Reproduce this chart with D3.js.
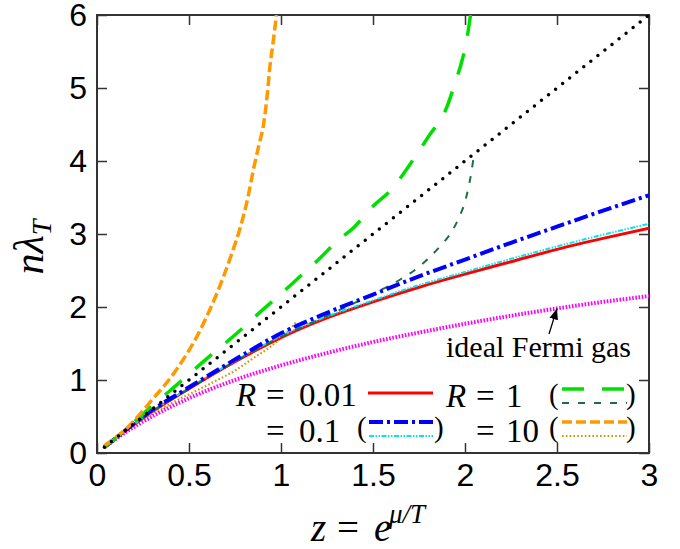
<!DOCTYPE html>
<html>
<head>
<meta charset="utf-8">
<script src="https://cdn.jsdelivr.net/npm/d3@7"></script>
<style>
  body { margin: 0; background: #fff; }
  .tick text { font-family: "Liberation Sans", Arial, sans-serif; font-size: 32px; fill: #000; }
  .tick line { stroke: #333; stroke-width: 1.5; }
  .domain { stroke: none; }
  .serif { font-family: "Liberation Serif", "Times New Roman", serif; fill: #000; }
</style>
</head>
<body>
<script>
// tick values and labels
var xTicks = [0, 0.5, 1, 1.5, 2, 2.5, 3];
var xTickLabels = ["0", "0.5", "1", "1.5", "2", "2.5", "3"];
var yTicks = [0, 1, 2, 3, 4, 5, 6];
var yTickLabels = ["0", "1", "2", "3", "4", "5", "6"];

// curves, [z, n*lambda_T]
var classical = [[0.04, 0.08], [3, 6]];
var idealFermi = [[0.04, 0.08], [0.1, 0.19], [0.25, 0.43], [0.5, 0.75], [0.75, 1.0], [1.0, 1.2],
  [1.25, 1.37], [1.5, 1.52], [1.75, 1.65], [2.0, 1.77], [2.25, 1.88], [2.5, 1.98], [2.75, 2.07], [3.0, 2.15]];
var r001 = [[0.04, 0.08], [0.1, 0.2], [0.25, 0.48], [0.5, 0.88], [0.75, 1.25], [1.0, 1.58],
  [1.25, 1.85], [1.5, 2.07], [1.75, 2.27], [2.0, 2.45], [2.25, 2.62], [2.5, 2.79], [2.75, 2.94], [3.0, 3.08]];
var r01a = [[0.04, 0.08], [0.1, 0.2], [0.25, 0.5], [0.5, 0.9], [0.75, 1.28], [1.0, 1.64],
  [1.25, 1.92], [1.5, 2.17], [1.75, 2.42], [2.0, 2.65], [2.25, 2.88], [2.5, 3.1], [2.75, 3.32], [3.0, 3.53]];
var r01b = [[0.04, 0.08], [0.1, 0.2], [0.25, 0.48], [0.5, 0.89], [0.75, 1.26], [1.0, 1.6],
  [1.25, 1.87], [1.5, 2.09], [1.75, 2.3], [2.0, 2.48], [2.25, 2.66], [2.5, 2.83], [2.75, 2.99], [3.0, 3.14]];
var r1a = [[0.04, 0.08], [0.1, 0.2], [0.2, 0.42], [0.3, 0.65], [0.4, 0.86], [0.5, 1.08], [0.6, 1.3],
  [0.7, 1.51], [0.8, 1.73], [0.9, 1.96], [1.0, 2.18], [1.1, 2.41], [1.2, 2.64], [1.3, 2.89], [1.4, 3.1],
  [1.5, 3.38], [1.6, 3.61], [1.7, 3.95], [1.8, 4.33], [1.9, 4.73], [1.95, 5.1], [1.98, 5.34], [2.01, 5.67], [2.03, 6.0]];
var r1b = [[0.04, 0.08], [0.1, 0.2], [0.25, 0.48], [0.5, 0.88], [0.75, 1.25], [1.0, 1.59], [1.25, 1.88],
  [1.5, 2.18], [1.65, 2.38], [1.75, 2.55], [1.86, 2.82], [1.93, 3.04], [1.97, 3.24], [2.0, 3.44],
  [2.02, 3.65], [2.035, 3.85], [2.045, 4.02]];
var r10a = [[0.04, 0.1], [0.17, 0.36], [0.3, 0.73], [0.42, 1.1], [0.56, 1.68], [0.685, 2.4], [0.735, 2.75],
  [0.78, 3.1], [0.82, 3.5], [0.85, 3.88], [0.88, 4.22], [0.905, 4.5], [0.925, 4.9], [0.94, 5.3],
  [0.957, 5.62], [0.975, 6.0]];
var r10b = [[0.04, 0.08], [0.15, 0.3], [0.3, 0.54], [0.45, 0.74], [0.6, 0.93], [0.75, 1.13], [0.85, 1.3],
  [0.95, 1.47], [1.0, 1.58], [1.05, 1.7], [1.085, 1.8]];

// styles for each curve
var styles = {
  classical: {color: "#000", width: 3.5, dash: "0,9", cap: "round"},
  idealFermi: {color: "#ff00ff", width: 4, dash: "1.6,1.6", cap: "butt"},
  r001: {color: "#ff0000", width: 3, dash: null, cap: "butt"},
  r01a: {color: "#0000ff", width: 4, dash: "14,4,3,4", cap: "butt"},
  r01b: {color: "#00e5ee", width: 2, dash: "5,1.5,1.5,1.5,1.5,1.5", cap: "butt"},
  r1a: {color: "#00e000", width: 3.5, dash: "22,18", cap: "butt"},
  r1b: {color: "#1e6e46", width: 2, dash: "7,9", cap: "butt"},
  r10a: {color: "#ff9900", width: 3.5, dash: "10,4", cap: "butt"},
  r10b: {color: "#cc9900", width: 2.2, dash: "1.6,2.2", cap: "butt"}
};

var width = 680, height = 549;
var padL = 97, padR = 649, padT = 15, padB = 453;

var x = d3.scaleLinear().domain([0, 3]).range([padL, padR]);
var y = d3.scaleLinear().domain([0, 6]).range([padB, padT]);

var svg = d3.select("body").append("svg")
    .attr("width", width)
    .attr("height", height);

svg.append("clipPath").attr("id", "plot")
  .append("rect")
    .attr("x", padL).attr("y", padT)
    .attr("width", padR - padL).attr("height", padB - padT);

// axes, ticks pointing inward
svg.append("g")
    .attr("transform", "translate(0," + padB + ")")
    .call(d3.axisBottom(x).tickValues(xTicks).tickSize(-10).tickSizeOuter(0).tickPadding(10)
      .tickFormat(function(d, i) { return xTickLabels[i]; }));
svg.append("g")
    .attr("transform", "translate(" + padL + ",0)")
    .call(d3.axisLeft(y).tickValues(yTicks).tickSize(-10).tickSizeOuter(0).tickPadding(10)
      .tickFormat(function(d, i) { return yTickLabels[i]; }));
svg.append("g")
    .attr("transform", "translate(0," + padT + ")")
    .call(d3.axisTop(x).tickValues(xTicks).tickSize(-10).tickSizeOuter(0).tickFormat(""));
svg.append("g")
    .attr("transform", "translate(" + padR + ",0)")
    .call(d3.axisRight(y).tickValues(yTicks).tickSize(-10).tickSizeOuter(0).tickFormat(""));

svg.append("rect")
    .attr("x", padL).attr("y", padT)
    .attr("width", padR - padL).attr("height", padB - padT)
    .attr("fill", "none").attr("stroke", "#333").attr("stroke-width", 2);

var line = d3.line()
    .x(function(d) { return x(d[0]); })
    .y(function(d) { return y(d[1]); })
    .curve(d3.curveMonotoneX);

function styled(sel, s) {
  sel.attr("fill", "none")
     .attr("stroke", s.color)
     .attr("stroke-width", s.width)
     .attr("stroke-linecap", s.cap);
  if (s.dash) sel.attr("stroke-dasharray", s.dash);
  return sel;
}

var curves = [
  ["r10b", r10b], ["idealFermi", idealFermi], ["r001", r001], ["r01b", r01b], ["r1b", r1b],
  ["r01a", r01a], ["r1a", r1a], ["r10a", r10a], ["classical", classical]
];

var plot = svg.append("g").attr("clip-path", "url(#plot)");
curves.forEach(function(c) {
  styled(plot.append("path").datum(c[1]).attr("d", line), styles[c[0]]);
});

// annotation
svg.append("defs").append("marker")
    .attr("id", "head").attr("viewBox", "0 0 10 10")
    .attr("refX", 10).attr("refY", 5)
    .attr("markerWidth", 11).attr("markerHeight", 11)
    .attr("markerUnits", "userSpaceOnUse")
    .attr("orient", "auto")
  .append("path").attr("d", "M0,1 L10,5 L0,9 Z").attr("fill", "#000");

svg.append("line")
    .attr("x1", 549).attr("y1", 334)
    .attr("x2", x(2.5)).attr("y2", y(1.98))
    .attr("stroke", "#000").attr("stroke-width", 1.3)
    .attr("marker-end", "url(#head)");

svg.append("text").attr("class", "serif")
    .attr("x", 446).attr("y", 357)
    .style("font-size", "30px")
    .text("ideal Fermi gas");

// legend
function label(tx, ty, str, italic, size) {
  svg.append("text").attr("class", "serif")
      .attr("x", tx).attr("y", ty)
      .style("font-size", (size || 33) + "px")
      .style("font-style", italic ? "italic" : "normal")
      .text(str);
}
function sample(x1, x2, ly, key) {
  styled(svg.append("line").attr("x1", x1).attr("x2", x2).attr("y1", ly).attr("y2", ly), styles[key]);
}

label(236, 406, "R", true);
label(266, 406, "=", false);
label(299, 406, "0.01", false);
sample(368, 433, 393, "r001");

label(266, 442, "=", false);
label(299, 442, "0.1", false);
label(357, 437, "(", false, 29);
sample(369, 433, 422, "r01a");
sample(369, 433, 436, "r01b");
label(434, 437, ")", false, 29);

label(446, 407, "R", true);
label(476, 407, "=", false);
label(506, 407, "1", false);
label(549, 404, "(", false, 29);
sample(562, 627, 389, "r1a");
sample(562, 627, 403, "r1b");
label(626, 404, ")", false, 29);

label(476, 442, "=", false);
label(506, 442, "10", false);
label(549, 437, "(", false, 29);
sample(562, 627, 422, "r10a");
sample(562, 627, 436, "r10b");
label(626, 437, ")", false, 29);

// axis titles
var xt = svg.append("g").attr("class", "serif").style("font-size", "39px");
xt.append("text").attr("x", 311).attr("y", 541).style("font-style", "italic").text("z");
xt.append("text").attr("x", 337).attr("y", 541).text("=");
xt.append("text").attr("x", 374).attr("y", 541).style("font-style", "italic").text("e");
xt.append("text").attr("x", 389).attr("y", 523).style("font-style", "italic").style("font-size", "27px").text("μ/T");

var yt = svg.append("text").attr("class", "serif")
    .attr("transform", "translate(43,247) rotate(-90)")
    .attr("text-anchor", "middle")
    .style("font-size", "42px").style("font-style", "italic");
yt.append("tspan").text("nλ");
yt.append("tspan").attr("dy", 8).style("font-size", "28px").text("T");
</script>
</body>
</html>
